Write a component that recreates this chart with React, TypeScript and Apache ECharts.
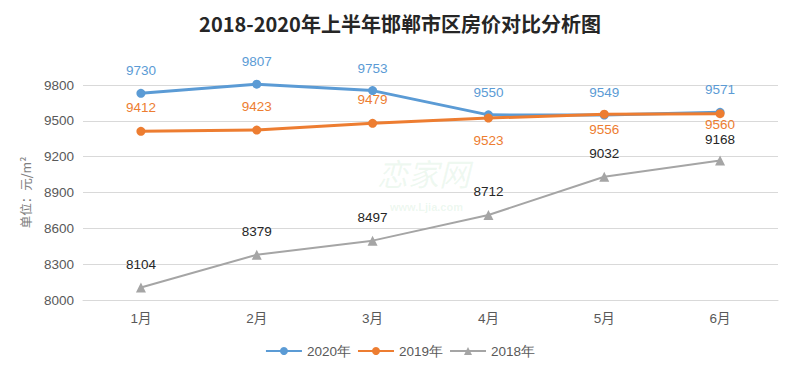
import React, { useEffect, useRef } from "react";
import * as echarts from "echarts";

const categories = ["1月", "2月", "3月", "4月", "5月", "6月"];
const series2020 = [9730, 9807, 9753, 9550, 9549, 9571];
const series2019 = [9412, 9423, 9479, 9523, 9556, 9560];
const series2018 = [8104, 8379, 8497, 8712, 9032, 9168];
const labelPos2019 = ["top", "top", "top", "bottom", "bottom", "bottom"];
const labelDist2019 = [12, 12, 12, 11, 4, -1];
const labelDist2018 = [11, 11, 11, 11, 11, 9];

export default function App() {
  const ref = useRef<HTMLDivElement>(null);
  useEffect(() => {
    const chart = echarts.init(ref.current!, null, { renderer: "svg" });
    const font = "'Microsoft YaHei', 'Noto Sans CJK SC', sans-serif";
    const num = "Arial, 'Liberation Sans', sans-serif";
    chart.setOption({
      animation: false,
      textStyle: { fontFamily: "Arial, 'Liberation Sans', 'Noto Sans CJK SC', sans-serif" },
      title: {
        text: "2018-2020年上半年邯郸市区房价对比分析图",
        left: "center",
        top: 0,
        textStyle: { fontSize: 20, fontWeight: "bold", color: "#262626", fontFamily: font },
      },
      graphic: [
        {
          type: "text",
          left: 369,
          top: 148,
          style: { text: "恋家网", fontSize: 31, lineHeight: 32, fill: "rgba(120,200,140,0.12)", fontFamily: font, fontStyle: "italic" },
        },
        {
          type: "text",
          left: 382,
          top: 193,
          style: { text: "www.Ljia.com", fontSize: 11, lineHeight: 12, fontWeight: "bold", fill: "rgba(120,200,140,0.14)" },
        },
      ],
      legend: {
        bottom: 20,
        left: "center",
        itemWidth: 36,
        itemHeight: 10,
        itemGap: 6,
        textStyle: { fontSize: 13.5, color: "#595959", fontFamily: num },
        data: ["2020年", "2019年", "2018年"],
      },
      grid: { left: 75, right: 14, top: 77, bottom: 83 },
      xAxis: {
        type: "category",
        data: categories,
        axisLine: { lineStyle: { color: "#d9d9d9" } },
        axisTick: { show: false },
        axisLabel: { color: "#595959", fontSize: 13.5, margin: 12 },
      },
      yAxis: {
        type: "value",
        min: 8000,
        max: 9800,
        interval: 300,
        name: "单位：元/m²",
        nameLocation: "middle",
        nameRotate: 90,
        nameGap: 51,
        nameTextStyle: { color: "#7f7f7f", fontSize: 12.5, fontFamily: font },
        axisLine: { show: false },
        axisTick: { show: false },
        axisLabel: { color: "#595959", fontSize: 13.5, margin: 9, formatter: (v: number) => String(v) },
        splitLine: { lineStyle: { color: "#d9d9d9" } },
      },
      series: [
        {
          name: "2020年",
          type: "line",
          data: series2020,
          clip: false,
          symbol: "circle",
          symbolSize: 9,
          itemStyle: { color: "#5b9bd5" },
          lineStyle: { width: 3, color: "#5b9bd5" },
          label: { show: true, position: "top", distance: 11, color: "#5b9bd5", fontSize: 13.5, fontFamily: num },
          z: 3,
        },
        {
          name: "2019年",
          type: "line",
          data: series2019.map((v, i) => ({
            value: v,
            label: { position: labelPos2019[i], distance: labelDist2019[i] },
          })),
          clip: false,
          symbol: "circle",
          symbolSize: 9,
          itemStyle: { color: "#ed7d31" },
          lineStyle: { width: 3, color: "#ed7d31" },
          label: { show: true, position: "top", distance: 12, color: "#ed7d31", fontSize: 13.5, fontFamily: num },
          z: 4,
        },
        {
          name: "2018年",
          type: "line",
          data: series2018.map((v, i) => ({ value: v, label: { distance: labelDist2018[i] } })),
          clip: false,
          symbol: "triangle",
          symbolSize: 10,
          itemStyle: { color: "#a5a5a5" },
          lineStyle: { width: 2, color: "#a5a5a5" },
          label: { show: true, position: "top", distance: 11, color: "#262626", fontSize: 13.5, fontFamily: num },
          z: 2,
        },
      ],
    });
    return () => chart.dispose();
  }, []);
  return <div ref={ref} style={{ width: 784, height: 375 }} />;
}
